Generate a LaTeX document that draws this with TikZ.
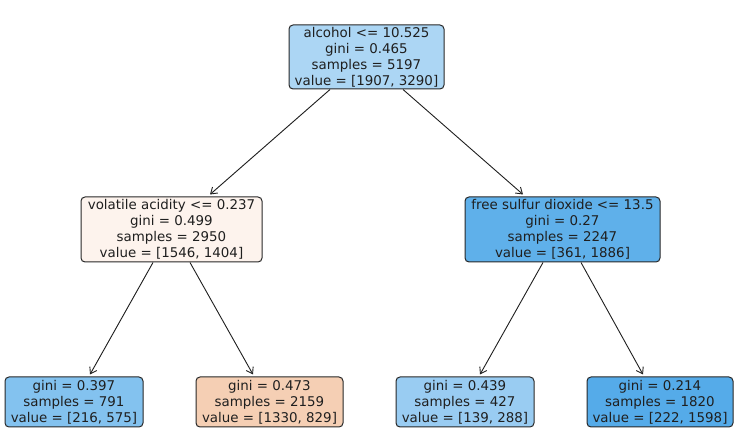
\documentclass[tikz,border=0pt]{standalone}
\usepackage{fontspec}
\setmainfont{DejaVu Sans}
\usetikzlibrary{arrows.meta,calc}
\definecolor{cRoot}{RGB}{172,214,244}
\definecolor{cVol}{RGB}{253,243,237}
\definecolor{cFree}{RGB}{95,176,234}
\definecolor{cLa}{RGB}{131,194,239}
\definecolor{cLb}{RGB}{245,207,180}
\definecolor{cLc}{RGB}{153,204,242}
\definecolor{cLd}{RGB}{85,171,233}
\definecolor{edgegray}{RGB}{40,40,40}
\tikzset{
  tnode/.style={draw=edgegray, line width=1pt, rounded corners=4pt, align=center,
    inner sep=0pt, font=\fontsize{13.4}{16}\selectfont, text=black!88},
  arr/.style={-{Straight Barb[length=6pt,width=8pt]}, line width=0.9pt, black!88}
}
\begin{document}
\begin{tikzpicture}[x=1pt,y=-1pt]
\useasboundingbox (0,0) rectangle (737,438);
\node[tnode, fill=cRoot, minimum width=155pt, minimum height=64pt] (root) at (366.5,57)
  {alcohol <= 10.525\\gini = 0.465\\samples = 5197\\value = [1907, 3290]};
\node[tnode, fill=cVol, minimum width=181pt, minimum height=65pt] (vol) at (171.5,229.5)
  {volatile acidity <= 0.237\\gini = 0.499\\samples = 2950\\value = [1546, 1404]};
\node[tnode, fill=cFree, minimum width=195pt, minimum height=65pt] (free) at (562.5,229.5)
  {free sulfur dioxide <= 13.5\\gini = 0.27\\samples = 2247\\value = [361, 1886]};
\node[tnode, fill=cLa, minimum width=138pt, minimum height=50pt] (la) at (74,402)
  {gini = 0.397\\samples = 791\\value = [216, 575]};
\node[tnode, fill=cLb, minimum width=147pt, minimum height=50pt] (lb) at (269.5,402)
  {gini = 0.473\\samples = 2159\\value = [1330, 829]};
\node[tnode, fill=cLc, minimum width=138pt, minimum height=50pt] (lc) at (465,402)
  {gini = 0.439\\samples = 427\\value = [139, 288]};
\node[tnode, fill=cLd, minimum width=146pt, minimum height=50pt] (ld) at (660,402)
  {gini = 0.214\\samples = 1820\\value = [222, 1598]};
\draw[arr] ($(root.south)+(-36.5,0)$) -- ($(vol.north)+(38.5,-2)$);
\draw[arr] ($(root.south)+(36.5,0)$) -- ($(free.north)+(-39.5,-2)$);
\draw[arr] ($(vol.south)+(-18.5,0)$) -- ($(la.north)+(16,-2)$);
\draw[arr] ($(vol.south)+(18.5,0)$) -- ($(lb.north)+(-16.5,-2)$);
\draw[arr] ($(free.south)+(-19.5,0)$) -- ($(lc.north)+(15,-2)$);
\draw[arr] ($(free.south)+(18.5,0)$) -- ($(ld.north)+(-17,-2)$);
\end{tikzpicture}
\end{document}
